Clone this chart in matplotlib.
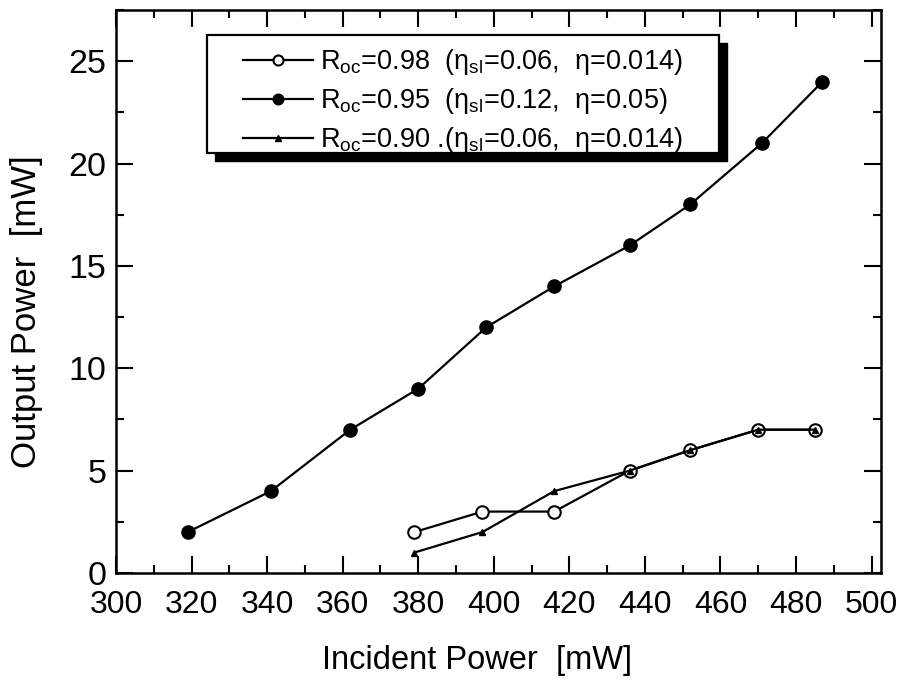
import matplotlib
matplotlib.use("Agg")
import matplotlib.pyplot as plt
from matplotlib.patches import Rectangle
from matplotlib.ticker import MultipleLocator

plt.rcParams['font.family'] = ['Liberation Sans', 'DejaVu Sans']
plt.rcParams['mathtext.fontset'] = 'custom'
plt.rcParams['mathtext.rm'] = 'Liberation Sans'
plt.rcParams['mathtext.it'] = 'Liberation Sans:italic'

# Rendimento medido para tres acopladores de saida
p_098 = [379, 397, 416, 436, 452, 470, 485]
out_098 = [2, 3, 3, 5, 6, 7, 7]

p_095 = [319, 341, 362, 380, 398, 416, 436, 452, 471, 487]
out_095 = [2, 4, 7, 9, 12, 14, 16, 18, 21, 24]

p_090 = [379, 397, 416, 436, 452, 470, 485]
out_090 = [1, 2, 4, 5, 6, 7, 7]

labels = [
    r'R$_{\rm oc}$=0.98  (η$_{\rm sl}$=0.06,  η=0.014)',
    r'R$_{\rm oc}$=0.95  (η$_{\rm sl}$=0.12,  η=0.05)',
    r'R$_{\rm oc}$=0.90 .(η$_{\rm sl}$=0.06,  η=0.014)',
]

fig = plt.figure(figsize=(8.99, 6.84), dpi=100)
ax = fig.add_axes([116 / 899, 1 - 573 / 684, 765 / 899, 563 / 684])

l1, = ax.plot(p_098, out_098, '-o', color='black', lw=1.6, ms=9,
              mfc='white', mec='black', mew=1.5, zorder=3)
l2, = ax.plot(p_095, out_095, '-o', color='black', lw=1.6, ms=9.5,
              mfc='black', zorder=3)
l3, = ax.plot(p_090, out_090, '-^', color='black', lw=1.6, ms=5,
              mfc='black', zorder=4)

ax.set_xlim(300, 502.5)
ax.set_ylim(0, 27.5)
ax.xaxis.set_major_locator(MultipleLocator(20))
ax.xaxis.set_minor_locator(MultipleLocator(10))
ax.yaxis.set_major_locator(MultipleLocator(5))
ax.yaxis.set_minor_locator(MultipleLocator(2.5))
ax.tick_params(which='both', direction='in', top=True, right=True,
               width=1.5)
ax.tick_params(which='major', length=12)
ax.tick_params(which='minor', length=6)
ax.tick_params(axis='x', pad=12, labelsize=23)
ax.tick_params(axis='y', pad=7, labelsize=24.5)
for s in ax.spines.values():
    s.set_linewidth(1.8)

ax.set_xlabel('Incident Power  [mW]', fontsize=23.5)
ax.set_ylabel('Output Power  [mW]', fontsize=25)
ax.xaxis.set_label_coords(0.472, -0.128)
ax.yaxis.set_label_coords(-0.095, 0.464)

# caixa da legenda com sombra
x0, x1 = 0.119, 0.788
y0, y1 = 0.746, 0.9556
ax.add_patch(Rectangle((x0 + 0.0105, y0 - 0.0145), x1 - x0, y1 - y0,
                       transform=ax.transAxes, facecolor='black',
                       edgecolor='black', zorder=5))
ax.add_patch(Rectangle((x0, y0), x1 - x0, y1 - y0, transform=ax.transAxes,
                       facecolor='white', edgecolor='black', lw=1.6,
                       zorder=5.5))

leg = ax.legend([l1, l2, l3], labels, loc='upper left',
                bbox_to_anchor=(0.166, 0.934), borderaxespad=0,
                borderpad=0, frameon=False, fontsize=19.5, handlelength=2.6,
                handletextpad=0.25, labelspacing=0.33, markerscale=0.8)
leg.set_zorder(6)

fig.savefig('out.png', dpi=100)
